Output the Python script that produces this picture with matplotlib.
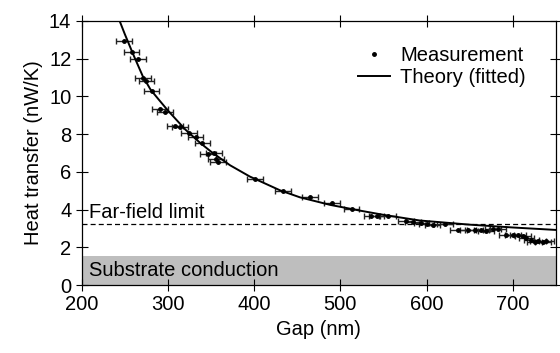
import matplotlib
matplotlib.use("Agg")
import matplotlib.pyplot as plt

plt.rcParams['font.family'] = ['Liberation Sans', 'DejaVu Sans']
plt.rcParams['font.size'] = 14.5

# measured points (gap in nm, heat transfer in nW/K)
gap = [249, 258, 265, 271, 275, 281, 291, 296.5, 308, 314, 324.7, 332, 340,
       346.7, 353.7, 355.6, 358.3, 400.8, 433.6, 464.5, 490, 513, 536, 542,
       555, 576, 584, 594, 600, 607, 621, 636, 648, 656, 663.5, 669, 677,
       683, 692.5, 700, 706, 711.7, 715.6, 721.4, 725.3, 729.1, 734.9, 738.8]
heat = [12.94, 12.37, 11.97, 10.96, 10.82, 10.3, 9.33, 9.16, 8.43, 8.39, 8.04,
        7.83, 7.51, 6.93, 6.98, 6.66, 6.54, 5.61, 4.98, 4.66, 4.36, 4.01, 3.67,
        3.67, 3.67, 3.41, 3.36, 3.27, 3.23, 3.2, 3.23, 2.92, 2.92, 2.92, 2.92,
        2.86, 2.97, 2.97, 2.63, 2.65, 2.65, 2.6, 2.51, 2.39, 2.3, 2.35, 2.3, 2.35]
gap_err = 9

# fitted theory curve
theory_gap = [244, 250, 260, 271, 280, 289, 300, 320, 337, 350, 372, 395, 430,
              453, 488, 522, 550, 592, 650, 700, 750]
theory_heat = [14.0, 13.3, 12.2, 11.05, 10.35, 9.85, 9.25, 8.25, 7.55, 7.07,
               6.35, 5.75, 5.02, 4.65, 4.25, 3.95, 3.72, 3.42, 3.2, 3.05, 2.92]

far_field = 3.22
substrate = 1.52

fig = plt.figure(figsize=(5.6, 3.53), dpi=100)
ax = fig.add_axes([0.1459, 0.1926, 0.847, 0.748])

ax.axhspan(0, substrate, color='#bebebe', lw=0, zorder=0)
ax.axhline(far_field, color='black', ls=(0, (4, 2.5)), lw=0.9, zorder=1)
ax.errorbar(gap, heat, xerr=gap_err, fmt='none', ecolor='#222222',
            elinewidth=1.0, capsize=2.5, capthick=1.0, zorder=2)
ax.plot(gap, heat, 'o', color='black', ms=2.5, ls='none', label='Measurement', zorder=3)
ax.plot(theory_gap, theory_heat, color='black', lw=1.4, label='Theory (fitted)', zorder=4)

ax.text(209, 3.35, 'Far-field limit', ha='left', va='bottom')
ax.text(209, 0.75, 'Substrate conduction', ha='left', va='center')

ax.set_xlim(200, 750)
ax.set_ylim(0, 14)
ax.set_xticks([200, 300, 400, 500, 600, 700])
ax.set_yticks([0, 2, 4, 6, 8, 10, 12, 14])
ax.set_xlabel('Gap (nm)')
ax.set_ylabel('Heat transfer (nW/K)')

ax.tick_params(axis='y', which='both', left=True, right=True, direction='inout', length=8, width=0.8)
ax.tick_params(axis='x', which='both', bottom=True, top=True, direction='inout', length=8, width=0.8)
for sp in ax.spines.values():
    sp.set_linewidth(0.9)

ax.legend(loc='upper right', frameon=False, bbox_to_anchor=(0.975, 0.975),
          handlelength=1.6, handletextpad=0.5, labelspacing=0.15, markerscale=1.0)

fig.savefig('out.png', dpi=100)
